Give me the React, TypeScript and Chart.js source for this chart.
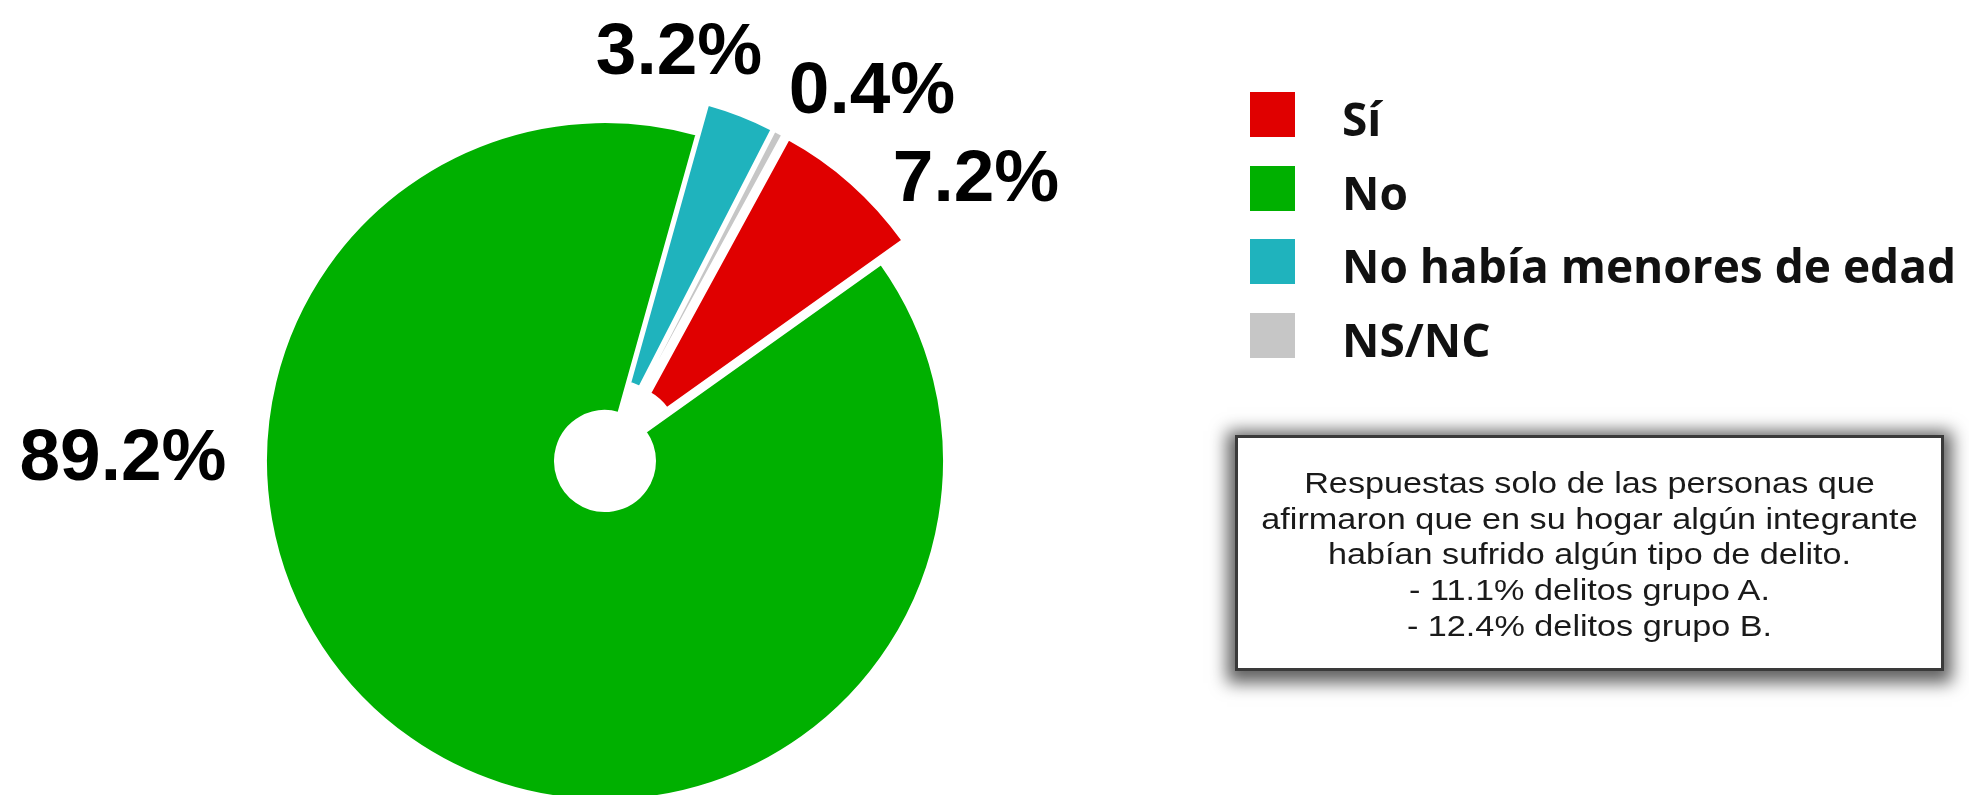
import React, { useEffect, useRef } from "react";
import { Chart, registerables } from "chart.js";

Chart.register(...registerables);

// ---------- data ----------
const categories = ["Sí", "No", "No había menores de edad", "NS/NC"];
const values = [7.2, 89.2, 3.2, 0.4];
const colors = ["#E00000", "#00B000", "#1FB3BD", "#C6C6C6"];
const explode = [32, 0, 32, 32];
const noteLines = [
  "Respuestas solo de las personas que",
  "afirmaron que en su hogar algún integrante",
  "habían sufrido algún tipo de delito.",
  "- 11.1% delitos grupo A.",
  "- 12.4% delitos grupo B.",
];

// ---------- layout ----------
const W = 1969;
const H = 795;
const CX = 605;
const CY = 461;
const R = 339;
const HOLE = 50;
const START_DEG = 28.6;
const LABEL_FONT = 73;
// label centre offsets from pie centre (px), same order as categories
const labelOffsets = [
  [371, -286],
  [-482, -7],
  [74, -413],
  [267, -374],
];

const explodePlugin = {
  id: "explodeSlices",
  beforeDatasetDraw(chart: any, args: any) {
    const ctx = chart.ctx;
    const arcs = args.meta.data;
    const order = arcs
      .map((_: any, i: number) => i)
      .sort((a: number, b: number) => (explode[a] || 0) - (explode[b] || 0));
    order.forEach((i: number) => {
      const arc = arcs[i];
      const { startAngle, endAngle } = arc.getProps(["startAngle", "endAngle"], true);
      const mid = (startAngle + endAngle) / 2;
      const d = explode[i] || 0;
      ctx.save();
      ctx.translate(Math.cos(mid) * d, Math.sin(mid) * d);
      arc.draw(ctx);
      ctx.restore();
    });
    return false;
  },
};

const labelPlugin = {
  id: "valueLabels",
  afterDraw(chart: any) {
    const ctx = chart.ctx;
    const arcs = chart.getDatasetMeta(0).data;
    ctx.save();
    ctx.font = `bold ${LABEL_FONT}px "Liberation Sans", Arial, sans-serif`;
    ctx.fillStyle = "#000";
    ctx.textAlign = "center";
    ctx.textBaseline = "alphabetic";
    arcs.forEach((arc: any, i: number) => {
      const { x, y } = arc.getProps(["x", "y"], true);
      const [dx, dy] = labelOffsets[i];
      ctx.fillText(`${values[i].toFixed(1)}%`, x + dx, y + dy + 0.358 * LABEL_FONT);
    });
    ctx.restore();
  },
};

function PieChart() {
  const ref = useRef<HTMLCanvasElement | null>(null);
  useEffect(() => {
    if (!ref.current) return;
    const chart = new Chart(ref.current, {
      type: "doughnut",
      data: {
        labels: categories,
        datasets: [
          {
            data: values,
            backgroundColor: colors,
            borderColor: "#ffffff",
            borderWidth: 2,
            hoverOffset: 0,
          },
        ],
      },
      options: {
        animation: false,
        responsive: true,
        maintainAspectRatio: false,
        rotation: START_DEG,
        radius: R,
        cutout: `${(HOLE / R) * 100}%`,
        events: [],
        layout: {
          padding: { left: 0, right: W - 2 * CX, top: 2 * CY - H, bottom: 0 },
        },
        plugins: {
          legend: { display: false },
          tooltip: { enabled: false },
        },
      } as any,
      plugins: [explodePlugin, labelPlugin],
    });
    return () => chart.destroy();
  }, []);
  return (
    <div style={{ position: "absolute", left: 0, top: 0, width: W, height: H }}>
      <canvas ref={ref} />
    </div>
  );
}

function Legend() {
  return (
    <div style={{ position: "absolute", left: 1250, top: 92 }}>
      {categories.map((c, i) => (
        <div key={c} style={{ display: "flex", alignItems: "flex-start", height: 45, marginBottom: 28.5 }}>
          <div style={{ width: 45, height: 45, background: colors[i], flex: "0 0 auto" }} />
          <div
            style={{
              marginLeft: 47,
              fontFamily: '"Open Sans", sans-serif',
              fontWeight: 700,
              fontSize: 46,
              lineHeight: "45px",
              color: "#111",
              position: "relative",
              top: 4,
              whiteSpace: "nowrap",
            }}
          >
            {c}
          </div>
        </div>
      ))}
    </div>
  );
}

function Note() {
  return (
    <div
      style={{
        position: "absolute",
        left: 1235,
        top: 435,
        width: 709,
        height: 236,
        boxSizing: "border-box",
        border: "3px solid #3a3a3a",
        background: "#fff",
        boxShadow: "0 4px 16px 8px rgba(0,0,0,0.62)",
        paddingTop: 28,
        fontFamily: '"Liberation Sans", Arial, sans-serif',
        fontSize: 29,
        lineHeight: "35.7px",
        color: "#1a1a1a",
        textAlign: "center",
      }}
    >
      {noteLines.map((l) => (
        <div key={l} style={{ transform: "scaleX(1.18)", whiteSpace: "nowrap" }}>
          {l}
        </div>
      ))}
    </div>
  );
}

export default function App() {
  return (
    <div
      style={{
        position: "absolute",
        left: 0,
        top: 0,
        width: W,
        height: H,
        overflow: "hidden",
        background: "#fff",
      }}
    >
      <PieChart />
      <Legend />
      <Note />
    </div>
  );
}
